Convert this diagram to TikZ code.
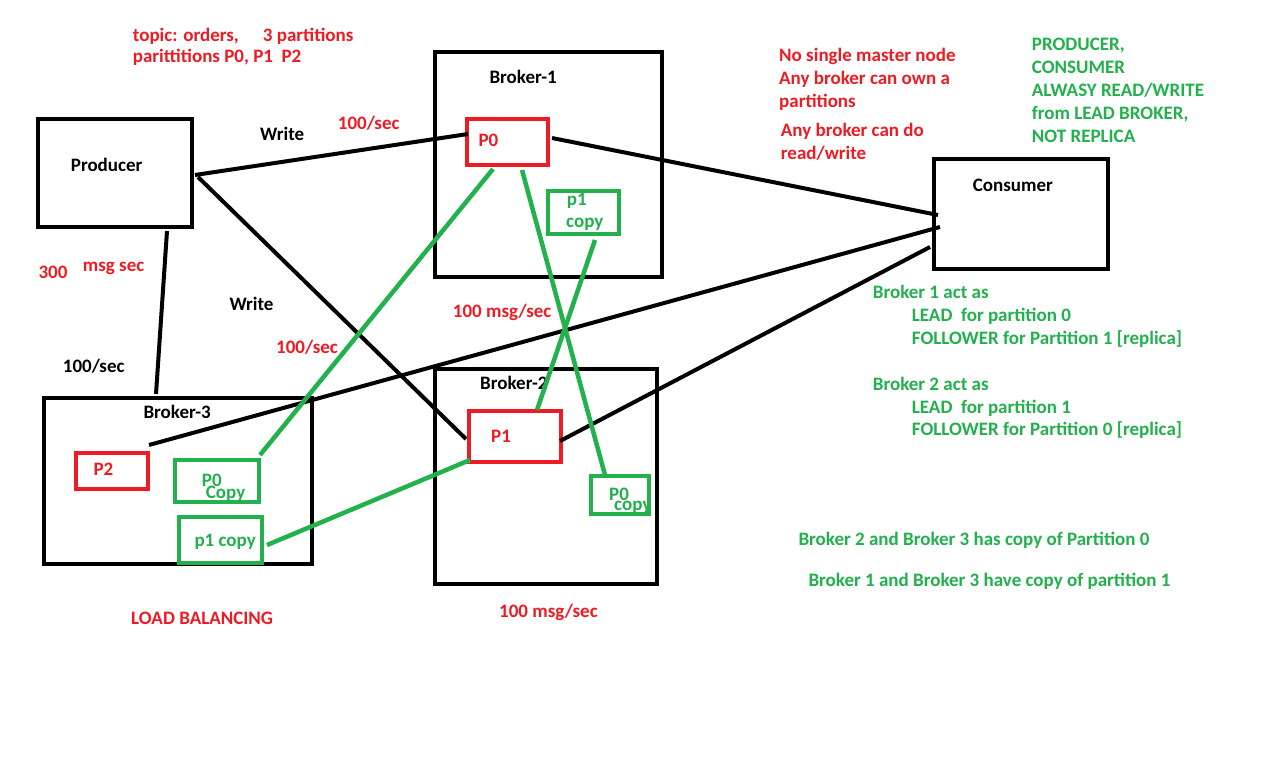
\documentclass[tikz,border=0pt]{standalone}
\usepackage{fontspec}
\setmainfont{Carlito}
\definecolor{paintred}{RGB}{237,28,36}
\definecolor{paintgreen}{RGB}{34,177,76}
\tikzset{
    txt/.style={anchor=base west, inner sep=0pt, font=\bfseries\fontsize{19}{23}\selectfont},
    redtxt/.style={txt, text=paintred},
    greentxt/.style={txt, text=paintgreen},
    box/.style={draw, line width=4pt, inner sep=0pt},
    redbox/.style={box, draw=paintred},
    greenbox/.style={box, draw=paintgreen},
    wire/.style={line width=4pt},
    greenwire/.style={line width=4.5pt, paintgreen}
}
\begin{document}
\begin{tikzpicture}[x=1pt, y=-1pt]
            \useasboundingbox[fill=white] (0,0) rectangle (1281,778);

            % labels
            \node[txt] (lprod) at (70.7,171.5) {Producer};
            \node[txt] (lcons) at (972.7,191) {Consumer};
            \node[txt] (lb1) at (489.3,83.5) {Broker-1};
            \node[txt] (lb2) at (480,389.5) {Broker-2};
            \node[txt] (lb3) at (143.3,418.5) {Broker-3};
            \node[redtxt] (lp0) at (478.3,146.5) {P0};
            \node[redtxt] (lp1) at (491,442) {P1};
            \node[redtxt] (lp2) at (93.3,475.5) {P2};
            \node[greentxt] (lc1a) at (566.7,205) {p1};
            \node[greentxt] (lc1b) at (566,227) {copy};
            \node[greentxt] (lc2a) at (609,500.5) {P0};
            \node[greentxt] (lc2b) at (614,510.5) {copy};
            \node[greentxt] (lc3a) at (201.7,486.5) {P0};
            \node[greentxt] (lc3b) at (205.7,498.5) {Copy};
            \node[greentxt] (lc4) at (194.3,546.5) {p1 copy};

            % rates
            \node[txt] (w1) at (260,140.5) {Write};
            \node[redtxt] (r1) at (337.7,129.5) {100/sec};
            \node[txt] (w2) at (229.3,310.5) {Write};
            \node[redtxt] (r2) at (276,353.5) {100/sec};
            \node[redtxt] (r3) at (38.3,278) {300};
            \node[redtxt] (r4) at (82.7,271) {msg sec};
            \node[txt] (r5) at (62.7,372) {100/sec};
            \node[redtxt] (r6) at (452.7,317) {100 msg/sec};
            \node[redtxt] (r7) at (499,617.5) {100 msg/sec};
            \node[redtxt] (lb) at (131,624.5) {LOAD BALANCING};

            % notes
            \node[redtxt] (t1) at (132.7,42) {topic: orders,};
            \node[redtxt] (t2) at (262.7,41.5) {3 partitions};
            \node[redtxt] (t3) at (132.7,63) {parittitions P0, P1\ \ P2};

            \node[redtxt] (m1) at (779,61.5) {No single master node};
            \node[redtxt] (m2) at (779,84.5) {Any broker can own a};
            \node[redtxt] (m3) at (779,107.5) {partitions};
            \node[redtxt] (m4) at (780.7,137) {Any broker can do};
            \node[redtxt] (m5) at (780.7,160) {read/write};

            \node[greentxt] (n1) at (1031.7,50.5) {PRODUCER,};
            \node[greentxt] (n2) at (1031.7,73.5) {CONSUMER};
            \node[greentxt] (n3) at (1031.7,96.5) {ALWASY READ/WRITE};
            \node[greentxt] (n4) at (1031.7,119.5) {from LEAD BROKER,};
            \node[greentxt] (n5) at (1031.7,142.5) {NOT REPLICA};

            \node[greentxt] (a1) at (872.7,298.5) {Broker 1 act as};
            \node[greentxt] (a2) at (911.7,321.5) {LEAD\ \ for partition 0};
            \node[greentxt] (a3) at (911.7,344.5) {FOLLOWER for Partition 1 [replica]};
            \node[greentxt] (a4) at (872.7,390.5) {Broker 2 act as};
            \node[greentxt] (a5) at (911.7,413) {LEAD\ \ for partition 1};
            \node[greentxt] (a6) at (911.7,435.5) {FOLLOWER for Partition 0 [replica]};

            \node[greentxt] (c1) at (798.3,545.5) {Broker 2 and Broker 3 has copy of Partition 0};
            \node[greentxt] (c2) at (808.3,586) {Broker 1 and Broker 3 have copy of partition 1};

            % boxes
            \node[box, minimum width=154, minimum height=108] (producer) at (115,173) {};
            \node[box, minimum width=174, minimum height=110] (consumer) at (1021,214) {};
            \node[box, minimum width=227, minimum height=225] (broker1) at (548.5,164.5) {};
            \node[box, minimum width=222, minimum height=215] (broker2) at (546,476.5) {};
            \node[box, minimum width=268, minimum height=166] (broker3) at (178,481) {};

            \node[redbox, minimum width=81, minimum height=46] (p0) at (507.5,142) {};
            \node[redbox, minimum width=92, minimum height=51] (p1) at (515,436.5) {};
            \node[redbox, minimum width=72, minimum height=36] (p2) at (112,471) {};

            \node[greenbox, minimum width=71, minimum height=43] (b1copy1) at (583.5,212.5) {};
            \node[greenbox, minimum width=58, minimum height=38] (b2copy0) at (620,495) {};
            \node[greenbox, minimum width=84, minimum height=42] (b3copy0) at (217,481) {};
            \node[greenbox, minimum width=83, minimum height=46] (b3copy1) at (220.5,540) {};

            % writes and reads
            \draw[wire] ([shift={(1,2)}]producer.east) -- ([shift={(3,-8)}]p0.west);
            \draw[wire] ([shift={(4,4)}]producer.east) -- ([shift={(-1,2.5)}]p1.west);
            \draw[wire] ([shift={(52,2)}]producer.south) -- ([shift={(-22,-2)}]broker3.north);
            \draw[wire] ([shift={(2,-4)}]p0.east) -- ([shift={(6,1)}]consumer.west);
            \draw[wire] ([shift={(8,13)}]consumer.west) -- ([shift={(-1,-6)}]p2.north east);
            \draw[wire] ([shift={(-2,33)}]consumer.west) -- ([shift={(-3,4.5)}]p1.east);

            % replication
            \draw[greenwire] ([shift={(-14.5,2)}]p0.south) -- ([shift={(-1,-3)}]b3copy0.north east);
            \draw[greenwire] ([shift={(14.5,3)}]p0.south) -- ([shift={(-15,1)}]b2copy0.north);
            \draw[greenwire] ([shift={(11.5,4)}]b1copy1.south) -- ([shift={(22,1)}]p1.north);
            \draw[greenwire] ([shift={(3,-4)}]p1.south west) -- ([shift={(3,5)}]b3copy1.east);
        \end{tikzpicture}
\end{document}
